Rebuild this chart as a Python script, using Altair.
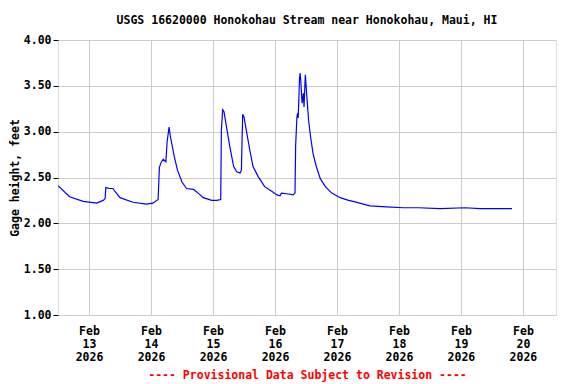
import altair as alt
import pandas as pd

# Gage height readings (feet)
times = [
    "2026/02/12 12:00", "2026/02/12 16:30", "2026/02/12 21:45", "2026/02/13 03:00",
    "2026/02/13 05:30", "2026/02/13 06:15", "2026/02/13 06:30", "2026/02/13 08:00",
    "2026/02/13 09:15", "2026/02/13 10:00", "2026/02/13 12:00", "2026/02/13 17:00",
    "2026/02/13 22:15", "2026/02/14 00:45", "2026/02/14 02:45", "2026/02/14 03:15",
    "2026/02/14 04:00", "2026/02/14 04:45", "2026/02/14 05:45", "2026/02/14 06:15",
    "2026/02/14 07:00", "2026/02/14 07:30", "2026/02/14 09:00", "2026/02/14 10:15",
    "2026/02/14 12:00", "2026/02/14 13:45", "2026/02/14 16:30", "2026/02/14 18:15",
    "2026/02/14 20:15", "2026/02/14 23:30", "2026/02/15 01:30", "2026/02/15 03:00",
    "2026/02/15 03:15", "2026/02/15 03:45", "2026/02/15 04:15", "2026/02/15 05:15",
    "2026/02/15 06:30", "2026/02/15 08:00", "2026/02/15 09:15", "2026/02/15 10:30",
    "2026/02/15 11:00", "2026/02/15 11:30", "2026/02/15 12:00", "2026/02/15 13:00",
    "2026/02/15 14:15", "2026/02/15 15:30", "2026/02/15 17:30", "2026/02/15 20:00",
    "2026/02/15 22:45", "2026/02/16 00:45", "2026/02/16 02:00", "2026/02/16 02:30",
    "2026/02/16 05:15", "2026/02/16 07:00", "2026/02/16 07:45", "2026/02/16 08:00",
    "2026/02/16 08:30", "2026/02/16 08:45", "2026/02/16 09:00", "2026/02/16 09:30",
    "2026/02/16 09:45", "2026/02/16 10:00", "2026/02/16 10:30", "2026/02/16 11:00",
    "2026/02/16 11:15", "2026/02/16 11:45", "2026/02/16 12:15", "2026/02/16 13:00",
    "2026/02/16 13:45", "2026/02/16 14:45", "2026/02/16 16:00", "2026/02/16 17:30",
    "2026/02/16 19:30", "2026/02/16 22:00", "2026/02/17 01:15", "2026/02/17 04:30",
    "2026/02/17 06:15", "2026/02/17 12:45", "2026/02/17 19:15", "2026/02/18 01:45",
    "2026/02/18 07:30", "2026/02/18 16:00", "2026/02/19 01:30", "2026/02/19 07:30",
    "2026/02/19 19:45",
]
gage_ft = [
    2.41, 2.29, 2.24, 2.22,
    2.25, 2.27, 2.39, 2.38,
    2.38, 2.35, 2.28, 2.23,
    2.21, 2.22, 2.26, 2.61,
    2.67, 2.70, 2.67, 2.89,
    3.05, 2.95, 2.73, 2.58,
    2.45, 2.38, 2.37, 2.33,
    2.28, 2.25, 2.25, 2.26,
    3.01, 3.24, 3.22, 3.05,
    2.84, 2.62, 2.56, 2.55,
    2.58, 3.19, 3.16, 3.00,
    2.80, 2.62, 2.51, 2.40,
    2.35, 2.31, 2.30, 2.33,
    2.32, 2.31, 2.33, 2.85,
    3.16, 3.20, 3.15, 3.58,
    3.64, 3.55, 3.31, 3.42,
    3.27, 3.62, 3.42, 3.13,
    2.95, 2.76, 2.62, 2.49,
    2.40, 2.33, 2.28, 2.25,
    2.24, 2.19, 2.18, 2.17,
    2.17, 2.16, 2.17, 2.16,
    2.16,
]
tick_days = [13, 14, 15, 16, 17, 18, 19, 20]
y_ticks = [1.0, 1.5, 2.0, 2.5, 3.0, 3.5, 4.0]

df = pd.DataFrame({"time": times, "gage": gage_ft})

FONT = "DejaVu Sans Mono"
FS = 11.5

x_axis = alt.Axis(
    values=[alt.DateTime(year=2026, month=2, date=d) for d in tick_days],
    labelExpr="[timeFormat(datum.value, '%b'), timeFormat(datum.value, '%d'), timeFormat(datum.value, '%Y')]",
    labelFont=FONT, labelFontSize=FS, labelFontWeight="bold", labelColor="black",
    labelLineHeight=13, labelPadding=10, labelAngle=0,
    ticks=False, domain=False,
    grid=True, gridColor="#cccccc", gridWidth=1,
    title="---- Provisional Data Subject to Revision ----",
    titleColor="#ff0000", titleFont=FONT, titleFontSize=FS, titleFontWeight="bold",
    titlePadding=7,
)

y_axis = alt.Axis(
    values=y_ticks, format=".2f",
    labelFont=FONT, labelFontSize=FS, labelFontWeight="bold", labelColor="black",
    labelPadding=2, tickSize=5, tickColor="black", domain=False,
    grid=True, gridColor="#cccccc", gridWidth=1,
    title="Gage height, feet",
    titleFont=FONT, titleFontSize=FS, titleFontWeight="bold", titleColor="black",
    titlePadding=3,
)

chart = alt.Chart(df).mark_line(color="#0000ff", strokeWidth=1.2, clip=True).encode(
    x=alt.X("time:T", axis=x_axis,
            scale=alt.Scale(domain=[
                alt.DateTime(year=2026, month=2, date=12, hours=12),
                alt.DateTime(year=2026, month=2, date=20, hours=12, minutes=48),
            ])),
    y=alt.Y("gage:Q", axis=y_axis, scale=alt.Scale(domain=[1, 4], nice=False, zero=False)),
).properties(
    width=498, height=275,
    title=alt.TitleParams(
        "USGS 16620000 Honokohau Stream near Honokohau, Maui, HI",
        font=FONT, fontSize=FS, fontWeight="bold", color="black",
        anchor="middle", offset=8,
    ),
    padding={"left": 50, "top": 32, "right": 10, "bottom": 72},
    autosize="none",
).configure_view(
    stroke="black", strokeWidth=1,
).configure(background="white")

chart.save("out.html", embed_options={"renderer": "svg", "actions": False})
